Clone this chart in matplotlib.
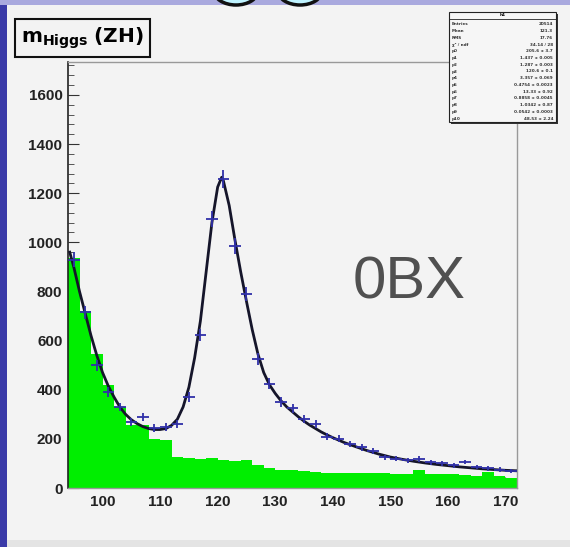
import numpy as np
import matplotlib
matplotlib.use("Agg")
import matplotlib.pyplot as plt
from matplotlib.patches import Rectangle, Ellipse

# --- data ---
# green background histogram, 2 GeV bins starting at 94
bkg_edges = list(range(94, 174, 2))
bkg_counts = [935, 720, 545, 420, 330, 258, 255, 198, 196, 126,
              122, 120, 122, 116, 108, 114, 95, 80, 75, 72,
              68, 65, 62, 60, 60, 60, 62, 60, 58, 55,
              72, 58, 55, 55, 52, 48, 64, 50, 42]

# blue data points (bin centres)
pt_x = list(range(95, 173, 2))
pt_y = [930, 715, 500, 392, 330, 270, 289, 244, 248, 262,
        370, 623, 1095, 1258, 985, 790, 525, 425, 350, 325,
        280, 262, 208, 200, 180, 165, 150, 125, 120, 112,
        118, 105, 100, 92, 106, 85, 80, 75, 70]
pt_yerr = [30, 27, 22, 20, 18, 16, 17, 16, 16, 16,
           19, 25, 33, 35, 31, 28, 23, 21, 19, 18,
           17, 16, 14, 14, 13, 13, 12, 11, 11, 11,
           11, 10, 10, 10, 10, 9, 9, 9, 8]

# fitted curve, points
fit_x = [94.3, 95, 96, 97, 98, 99, 100, 101, 102, 103, 104, 105, 106, 107,
         108, 109, 110, 111, 112, 113, 114, 115, 116, 117, 118, 119, 120,
         120.7, 121, 122, 123, 124, 125, 126, 127, 128, 129, 130, 131, 132,
         133, 134, 135, 136, 137, 138, 139, 140, 142, 144, 146, 148, 150,
         152, 154, 156, 158, 160, 162, 164, 166, 168, 170, 172]
fit_y = [960, 900, 800, 710, 620, 540, 470, 415, 370, 330, 300, 278, 262,
         250, 242, 238, 238, 242, 255, 280, 330, 410, 530, 680, 880, 1080,
         1225, 1265, 1250, 1150, 1010, 880, 760, 645, 545, 470, 420, 385,
         355, 330, 310, 290, 272, 256, 242, 228, 216, 205, 185, 168, 152,
         138, 126, 117, 109, 102, 96, 91, 86, 82, 78, 75, 72, 70]

x_ticks = [100, 110, 120, 130, 140, 150, 160, 170]
y_ticks = [0, 200, 400, 600, 800, 1000, 1200, 1400, 1600]

stat_names = ["Entries", "Mean", "RMS", "\u03c7\u00b2 / ndf", "p0", "p1", "p2",
              "p3", "p4", "p5", "p6", "p7", "p8", "p9", "p10"]
stat_vals = ["20514", "121.3", "17.76", "34.14 / 28", "205.6 \u00b1 3.7",
             "1.437 \u00b1 0.005", "1.287 \u00b1 0.003", "120.6 \u00b1 0.1",
             "3.357 \u00b1 0.069", "0.4754 \u00b1 0.0023", "13.33 \u00b1 0.92",
             "0.8858 \u00b1 0.0045", "1.0342 \u00b1 0.87", "0.0542 \u00b1 0.0003",
             "48.53 \u00b1 2.24"]

W, H = 570, 547
fig = plt.figure(figsize=(W / 100, H / 100), dpi=100)
fig.patch.set_facecolor("#f3f3f3")

def fx(px):
    return px / W

def fy(py):
    return 1 - py / H

# slide decoration: blue left edge, lavender top strip, bottom strip
fig.patches.append(Rectangle((0, 0), fx(7), 1, transform=fig.transFigure,
                             facecolor="#3a3aa8", edgecolor="none", zorder=0))
fig.patches.append(Rectangle((0, fy(5)), 1, fy(0) - fy(5), transform=fig.transFigure,
                             facecolor="#a9a9de", edgecolor="none", zorder=0))
fig.patches.append(Rectangle((fx(7), 0), 1, fy(540), transform=fig.transFigure,
                             facecolor="#e4e4e4", edgecolor="none", zorder=0))
for cx in (236, 300):
    fig.patches.append(Ellipse((fx(cx), fy(-9)), fx(44), 28 / H, transform=fig.transFigure,
                               facecolor="#bff3ff", edgecolor="#111111", lw=2.5, zorder=1))

ax = fig.add_axes([fx(68), fy(488), fx(517) - fx(68), fy(62) - fy(488)])
ax.set_facecolor("#f3f3f3")

# green background histogram
ax.stairs(bkg_counts, bkg_edges, fill=True, color="#00ee00", lw=0, zorder=2)

# fit curve
ax.plot(fit_x, fit_y, color="#15152a", lw=2.0, zorder=3)

# data points with error bars
ax.errorbar(pt_x, pt_y, xerr=1, yerr=pt_yerr, fmt="none", ecolor="#3030a8",
            elinewidth=1.3, capsize=0, zorder=4)

ax.set_xlim(94, 172)
ax.set_ylim(0, 1734)
ax.set_xticks(x_ticks)
ax.set_yticks(y_ticks)
ax.set_xticks(np.arange(96, 172, 2), minor=True)
ax.set_yticks(np.arange(0, 1734, 40), minor=True)
ax.tick_params(which="major", direction="in", length=8, width=0.8, color="#333333",
               labelsize=11, pad=5)
ax.tick_params(which="minor", direction="in", length=4, width=0.7, color="#555555")
ax.tick_params(axis="y", pad=4)
for lab in ax.get_xticklabels() + ax.get_yticklabels():
    lab.set_fontweight("bold")
    lab.set_family("Liberation Sans")
    lab.set_color("#222222")

ax.spines["left"].set_color("#222222")
ax.spines["left"].set_linewidth(1.2)
for s in ("top", "right", "bottom"):
    ax.spines[s].set_color("#999999")
    ax.spines[s].set_linewidth(1.0)

# big label
ax.text(0.76, 0.482, "0BX", transform=ax.transAxes, ha="center", va="center",
        fontsize=43, color="#505050", family="Liberation Sans", zorder=5)

# title box
fig.text(fx(21), fy(38), r"$\mathbf{m_{Higgs}}$ $\mathbf{(ZH)}$", fontsize=14.5,
         ha="left", va="center", family="Liberation Sans", zorder=6,
         bbox=dict(boxstyle="square,pad=0.3", facecolor="#f3f3f3",
                   edgecolor="#111111", lw=1.5))

# stats box
bx0, bx1, by0, by1 = 449, 556, 12, 122
fig.patches.append(Rectangle((fx(bx0 + 2), fy(by1 + 2)), fx(bx1 - bx0), fy(by0) - fy(by1),
                             transform=fig.transFigure, facecolor="#333333",
                             edgecolor="none", zorder=6))
fig.patches.append(Rectangle((fx(bx0), fy(by1)), fx(bx1 - bx0), fy(by0) - fy(by1),
                             transform=fig.transFigure, facecolor="#f6f6f6",
                             edgecolor="#222222", lw=0.8, zorder=7))
fig.text(fx((bx0 + bx1) / 2), fy(by0 + 3.5), "h1", fontsize=3.2, ha="center",
         va="center", zorder=8, fontweight="bold")
fig.add_artist(plt.Line2D([fx(bx0), fx(bx1)], [fy(by0 + 7), fy(by0 + 7)],
                          transform=fig.transFigure, color="#222222", lw=0.6, zorder=8))
row_h = (by1 - by0 - 9) / len(stat_names)
for i, (n, v) in enumerate(zip(stat_names, stat_vals)):
    yy = fy(by0 + 9 + row_h * (i + 0.5))
    fig.text(fx(bx0 + 3), yy, n, fontsize=3.0, ha="left", va="center", zorder=8,
             fontweight="bold", color="#333333")
    fig.text(fx(bx1 - 3), yy, v, fontsize=3.0, ha="right", va="center", zorder=8,
             fontweight="bold", color="#333333")

fig.savefig("out.png", dpi=100, facecolor=fig.get_facecolor())
